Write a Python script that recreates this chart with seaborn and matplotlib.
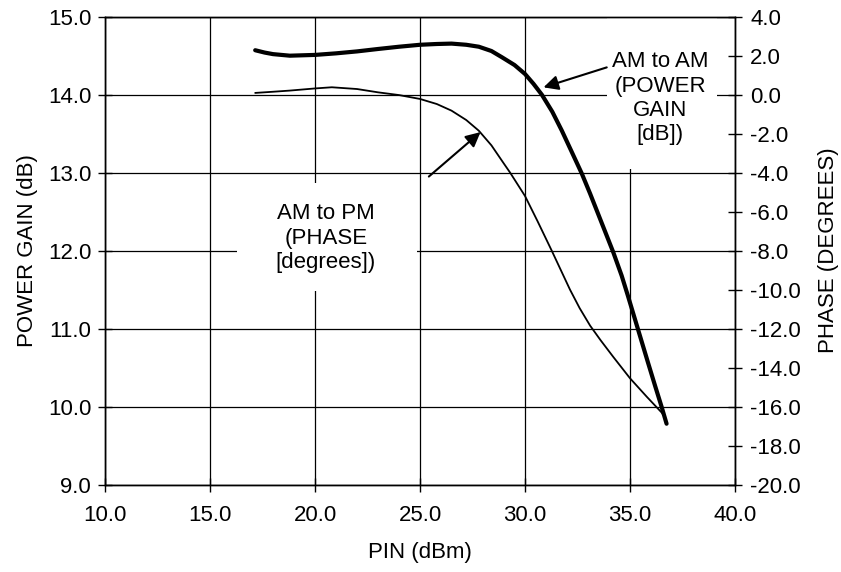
import matplotlib
matplotlib.use("Agg")
import matplotlib.pyplot as plt
from matplotlib.patches import Rectangle
import pandas as pd
import seaborn as sns

# AM to AM: power gain (dB) vs input power (dBm), left axis
gain_pin = [17.15, 17.6, 18.0, 18.8, 20.0, 21.0, 22.0, 23.0, 24.0, 25.0, 25.8, 26.5, 27.2, 27.8,
            28.4, 28.9, 29.5, 30.0, 30.4, 30.8, 31.3, 31.75, 32.2, 32.7, 33.1, 33.57, 34.2,
            34.6, 34.9, 35.38, 35.86, 36.2, 36.5, 36.74]
gain_db = [14.57, 14.54, 14.52, 14.50, 14.51, 14.53, 14.555, 14.586, 14.615, 14.64, 14.65, 14.655,
           14.64, 14.615, 14.56, 14.48, 14.38, 14.265, 14.14, 14.00, 13.78, 13.54, 13.28, 12.99,
           12.73, 12.41, 11.98, 11.68, 11.42, 10.99, 10.56, 10.26, 10.0, 9.78]

# AM to PM: phase (degrees) vs input power (dBm), right axis
phase_pin = [17.15, 18.0, 18.8, 20.0, 20.8, 22.0, 23.0, 24.0, 25.0, 25.8, 26.5, 27.2, 27.8,
             28.4, 28.97, 29.29, 30.0, 30.6, 31.27, 32.14, 32.6, 33.1, 33.6, 34.2, 35.0, 35.8,
             36.5, 36.6]
phase_deg = [0.09, 0.15, 0.21, 0.32, 0.38, 0.29, 0.12, -0.02, -0.22, -0.48, -0.82, -1.3, -1.85,
             -2.6, -3.5, -4.0, -5.2, -6.5, -8.0, -10.0, -10.95, -11.85, -12.6, -13.45, -14.55,
             -15.5, -16.3, -16.45]

x_ticks = [10, 15, 20, 25, 30, 35, 40]
gain_ticks = [9, 10, 11, 12, 13, 14, 15]
phase_ticks = list(range(-20, 5, 2))

gain_df = pd.DataFrame({"pin": gain_pin, "gain": gain_db})
phase_df = pd.DataFrame({"pin": phase_pin, "phase": phase_deg})

sns.set_style("ticks")
plt.rcParams["font.family"] = ["Liberation Sans", "DejaVu Sans"]
plt.rcParams["axes.unicode_minus"] = False
for k in ["text.color", "axes.labelcolor", "xtick.color", "ytick.color"]:
    plt.rcParams[k] = "black"
fs = 16

fig = plt.figure(figsize=(8.41, 5.72), dpi=100)
ax = fig.add_axes([0.1249, 0.1529, 0.7491, 0.8179])
ax2 = ax.twinx()

sns.lineplot(data=gain_df, x="pin", y="gain", ax=ax, color="black", lw=3.0, zorder=3,
             solid_joinstyle="round", solid_capstyle="round")
sns.lineplot(data=phase_df, x="pin", y="phase", ax=ax2, color="black", lw=1.3, zorder=3,
             solid_joinstyle="round")

ax.set_xlim(10, 40)
ax.set_ylim(9, 15)
ax2.set_ylim(-20, 4)
ax.set_xticks(x_ticks, [f"{v:.1f}" for v in x_ticks])
ax.set_yticks(gain_ticks, [f"{v:.1f}" for v in gain_ticks])
ax2.set_yticks(phase_ticks, [f"{v:.1f}" for v in phase_ticks])

ax.set_axisbelow(True)
ax.grid(True, color="black", lw=0.9)
for a in (ax, ax2):
    for s in a.spines.values():
        s.set_visible(True)
        s.set_color("black")
        s.set_linewidth(1.0)
    a.tick_params(direction="inout", length=10, width=1, labelsize=fs, colors="black")
ax.tick_params(axis="y", pad=5)
ax.tick_params(axis="x", pad=10)
ax2.tick_params(axis="y", pad=6)

ax.set_xlabel("PIN (dBm)", fontsize=fs, labelpad=11)
ax.set_ylabel("POWER GAIN (dB)", fontsize=fs, labelpad=7)
ax2.set_ylabel("PHASE (DEGREES)", fontsize=fs, labelpad=12, rotation=90)

# white label boxes that blank out the grid
ax.add_patch(Rectangle((16.29, 11.48), 8.57, 1.39, fc="white", ec="none", zorder=1))
ax.add_patch(Rectangle((33.9, 13.05), 5.24, 1.95, fc="white", ec="none", zorder=1))

ax.text(20.52, 12.16, "AM to PM\n(PHASE\n[degrees])", ha="center", va="center",
        fontsize=fs, zorder=4)
ax.text(36.44, 13.955, "AM to AM\n(POWER\nGAIN\n[dB])", ha="center", va="center",
        fontsize=fs, zorder=4)

arrow = dict(arrowstyle="-|>", color="black", lw=1.5, mutation_scale=22,
             shrinkA=0, shrinkB=0)
ax.annotate("", xy=(30.88, 14.094), xytext=(33.89, 14.35), arrowprops=arrow, zorder=4)
ax.annotate("", xy=(27.88, 13.52), xytext=(25.42, 12.95), arrowprops=arrow, zorder=4)

fig.savefig("out.png", dpi=100)
